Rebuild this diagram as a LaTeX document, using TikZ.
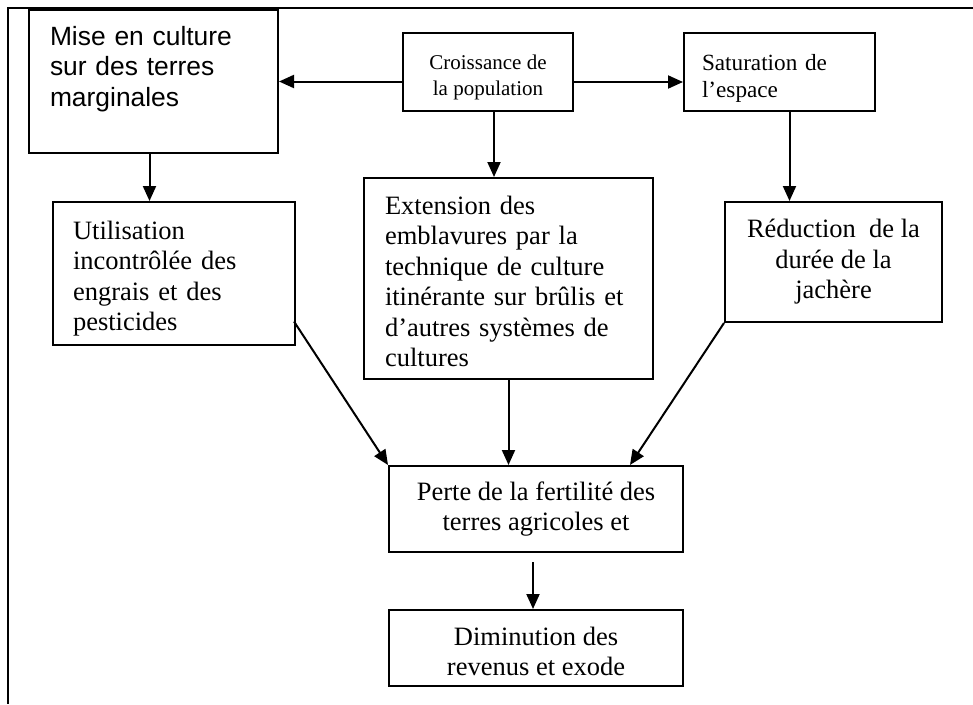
\documentclass[tikz,border=0pt]{standalone}
\usepackage{fontspec}
\setmainfont{Liberation Serif}
\newfontfamily\arialfont{Liberation Sans}
\usetikzlibrary{positioning}
\usetikzlibrary{arrows.meta}

\begin{document}
\begin{tikzpicture}[->, >={Triangle[length=15pt, width=13pt]}, x=1pt, y=-1pt, line width=2pt]
    \tikzstyle{block}=[draw=black, rectangle, fill=none, inner sep=0pt, line width=2pt, font=\fontsize{26.5}{30.5}\selectfont]
    \tikzstyle{leftbox}=[block, align=left]
    \tikzstyle{midbox}=[block, align=center]

    \useasboundingbox (0,0) rectangle (973,704);
    \draw[-, line width=2pt] (973,8) -- (8,8) -- (8,704);

    \node[leftbox, minimum width=249pt, minimum height=143pt, text width=207pt,
          font=\arialfont\fontsize{26.4}{30.5}\selectfont] (mise) at (153.5,81.5)
          {Mise en culture\\sur des terres\\marginales\\\mbox{}};
    \node[midbox, minimum width=170pt, minimum height=78pt,
          font=\fontsize{21}{26}\selectfont] (crois) at (488,72)
          {\rule{0pt}{25pt}Croissance de\\la population};
    \node[leftbox, minimum width=191pt, minimum height=78pt, text width=155pt,
          font=\fontsize{23.2}{27}\selectfont] (satur) at (779.5,72)
          {\rule{0pt}{28pt}Saturation de\\l'espace};
    \node[leftbox, minimum width=242pt, minimum height=143pt, text width=202pt] (util) at (174,273.5)
          {\rule{0pt}{29pt}Utilisation\\incontrôlée des\\engrais et des\\pesticides};
    \node[leftbox, minimum width=289pt, minimum height=201pt, text width=247pt] (ext) at (508.5,278.5)
          {\rule{0pt}{24pt}Extension des\\emblavures par la\\technique de culture\\itinérante sur brûlis et\\d'autres systèmes de\\cultures};
    \node[midbox, minimum width=217pt, minimum height=120pt] (reduc) at (833.5,262)
          {Réduction\ \ de la\\durée de la\\jachère};
    \node[midbox, minimum width=294pt, minimum height=86pt] (perte) at (536,509)
          {Perte de la fertilité des\\terres agricoles et};
    \node[midbox, minimum width=294pt, minimum height=76pt] (dimin) at (536,648)
          {\rule{0pt}{25pt}Diminution des\\revenus et exode};

    \path (mise.east -| crois.west) edge (mise.east);
    \path ([yshift=-10pt]crois.east) edge ([yshift=-10pt]satur.west);
    \path ([xshift=6pt]crois.south) edge ([xshift=6pt]crois.south |- ext.north);
    \path ([xshift=-4pt]mise.south) edge ([xshift=-4pt]mise.south |- util.north);
    \path ([xshift=10pt]satur.south) edge ([xshift=10pt]satur.south |- reduc.north);
    \path ([xshift=-2pt, yshift=-48pt]util.east) edge (perte.north west);
    \path (ext.south) edge (ext.south |- perte.north);
    \path (reduc.south west) edge ([xshift=94pt]perte.north);
    \path ([xshift=-3pt, yshift=-9pt]perte.south) edge ([xshift=-3pt]dimin.north);
\end{tikzpicture}
\end{document}
